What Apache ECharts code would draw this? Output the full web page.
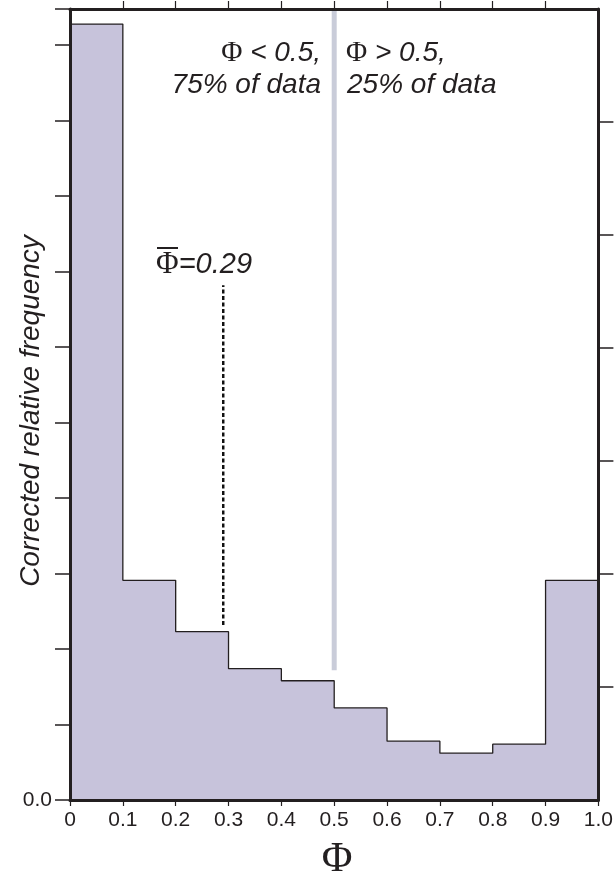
<!DOCTYPE html>
<html>
<head>
<meta charset="utf-8">
<script src="https://cdn.jsdelivr.net/npm/echarts@6/dist/echarts.min.js"></script>
<style>html,body{margin:0;padding:0;background:#fff}#c{width:616px;height:875px}</style>
</head>
<body>
<div id="c"></div>
<script>
// Histogram bin starts (Phi) and corrected relative frequency (arbitrary units, 1 unit = 1 left tick)
const binStarts = [0.0, 0.1, 0.2, 0.3, 0.4, 0.5, 0.6, 0.7, 0.8, 0.9];
const binEdgeEnd = 1.0;
const frequency = [10.28, 2.91, 2.23, 1.74, 1.58, 1.22, 0.78, 0.62, 0.74, 2.91];
const xTopTicks = [0.1, 0.2, 0.3, 0.4, 0.5, 0.6, 0.7, 0.8, 0.9];
const rightTicks = [1, 2, 3, 4, 5, 6];
const splitPhi = 0.5;
const splitLineFrom = 1.72;
const meanPhi = 0.29;
const meanLineFrom = 2.32;
const meanLineTo = 6.82;
const yMax = 10.48;

const stepData = binStarts.map((x, i) => [x, frequency[i]]);
stepData.push([binEdgeEnd, frequency[frequency.length - 1]]);

const SANS = "'Liberation Sans', Arial, sans-serif";
const SERIF = "'Liberation Serif', 'Times New Roman', serif";
const INK = '#231f20';

const chart = echarts.init(document.getElementById('c'), null, {renderer: 'canvas'});
chart.setOption({
  animation: false,
  backgroundColor: '#ffffff',
  grid: {left: 70, right: 16, top: 9, bottom: 75},
  xAxis: [{
    type: 'value', min: 0, max: 1, interval: 0.1, position: 'bottom', z: 10,
    axisLine: {show: true, onZero: false, lineStyle: {color: INK, width: 3}},
    axisTick: {show: true, length: 6, lineStyle: {color: INK, width: 1.2}},
    splitLine: {show: false},
    axisLabel: {
      color: INK, fontFamily: SANS, fontSize: 21, margin: 10,
      formatter: v => (Math.abs(v) < 1e-9 ? '0' : v.toFixed(1))
    }
  }, {
    type: 'value', min: 0, max: 1, interval: 0.1, position: 'top', z: 10,
    axisLine: {show: true, onZero: false, lineStyle: {color: INK, width: 3}},
    axisTick: {show: true, length: 8, customValues: xTopTicks, lineStyle: {color: INK, width: 1.2}},
    splitLine: {show: false},
    axisLabel: {show: false}
  }],
  yAxis: [{
    type: 'value', min: 0, max: yMax, interval: 1, position: 'left', z: 10,
    axisLine: {show: true, onZero: false, lineStyle: {color: INK, width: 3}},
    axisTick: {show: true, length: 15, lineStyle: {color: INK, width: 1.5}},
    splitLine: {show: false},
    axisLabel: {
      customValues: [0], color: INK, fontFamily: SANS, fontSize: 21, margin: 18,
      formatter: v => v.toFixed(1)
    }
  }, {
    type: 'value', min: 0, max: 7.0, interval: 1, position: 'right', z: 10,
    axisLine: {show: true, onZero: false, lineStyle: {color: INK, width: 3}},
    axisTick: {show: true, length: 15, customValues: rightTicks, lineStyle: {color: INK, width: 1.5}},
    splitLine: {show: false},
    axisLabel: {show: false}
  }],
  series: [{
    type: 'line', step: 'end', xAxisIndex: 0, yAxisIndex: 0,
    data: stepData, symbol: 'none', z: 2,
    lineStyle: {color: INK, width: 1.3},
    areaStyle: {color: '#c7c3db', opacity: 1, origin: 'start'}
  }, {
    type: 'line', xAxisIndex: 0, yAxisIndex: 0, symbol: 'none', z: 3,
    data: [[splitPhi, splitLineFrom], [splitPhi, yMax]],
    lineStyle: {color: '#c9ccd9', width: 5}
  }, {
    type: 'line', xAxisIndex: 0, yAxisIndex: 0, symbol: 'none', z: 3,
    data: [[meanPhi, meanLineFrom], [meanPhi, meanLineTo]],
    lineStyle: {color: '#111', width: 2.5, type: [4, 2.5]}
  }],
  graphic: [
    {type: 'text', x: 31, y: 411, rotation: Math.PI / 2,
     style: {text: 'Corrected relative frequency', font: 'italic 28px ' + SANS, fill: INK, align: 'center', verticalAlign: 'middle'}},
    {type: 'text', x: 337, y: 860,
     style: {text: 'Φ', font: '42px ' + SERIF, fill: INK, align: 'center', verticalAlign: 'middle'}},
    {type: 'text', x: 321, y: 53,
     style: {text: '{p|Φ}{i| < 0.5,}', align: 'right', verticalAlign: 'middle', fill: INK,
       rich: {p: {font: '29px ' + SERIF, fill: INK}, i: {font: 'italic 28px ' + SANS, fill: INK}}}},
    {type: 'text', x: 321, y: 85,
     style: {text: '75% of data', font: 'italic 28px ' + SANS, fill: INK, align: 'right', verticalAlign: 'middle'}},
    {type: 'text', x: 346, y: 53,
     style: {text: '{p|Φ}{i| > 0.5,}', align: 'left', verticalAlign: 'middle', fill: INK,
       rich: {p: {font: '29px ' + SERIF, fill: INK}, i: {font: 'italic 28px ' + SANS, fill: INK}}}},
    {type: 'text', x: 347, y: 85,
     style: {text: '25% of data', font: 'italic 28px ' + SANS, fill: INK, align: 'left', verticalAlign: 'middle'}},
    {type: 'text', x: 156, y: 265,
     style: {text: '{p|Φ}{i|=0.29}', align: 'left', verticalAlign: 'middle', fill: INK,
       rich: {p: {font: '31px ' + SERIF, fill: INK}, i: {font: 'italic 29px ' + SANS, fill: INK}}}},
    {type: 'line', shape: {x1: 157, y1: 248, x2: 178, y2: 248}, style: {stroke: INK, lineWidth: 2}}
  ]
});
</script>
</body>
</html>
